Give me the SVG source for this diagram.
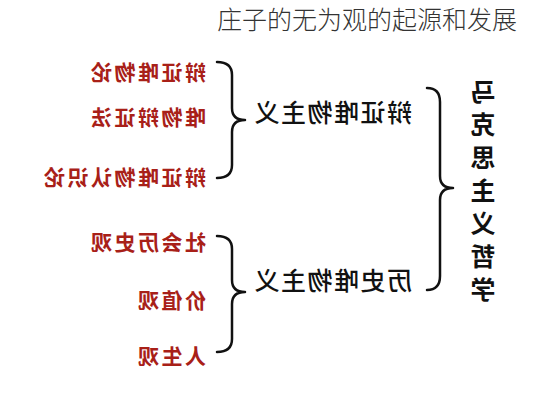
<svg xmlns="http://www.w3.org/2000/svg" width="533" height="400" viewBox="0 0 533 400">
<style>
.title{font-family:"Noto Sans CJK SC","Noto Sans",sans-serif;font-size:25px;font-weight:300;fill:#333}
.red{font-family:"Noto Sans CJK SC","Noto Sans",sans-serif;font-size:21px;font-weight:bold;fill:#a82018;letter-spacing:2.5px}
.mid{font-family:"Noto Sans CJK SC","Noto Sans",sans-serif;font-size:25px;font-weight:500;fill:#111;letter-spacing:1.5px}
.vert{font-family:"Noto Sans CJK SC","Noto Sans",sans-serif;font-size:25px;font-weight:bold;fill:#111;text-anchor:middle}
.brace{fill:none;stroke:#111;stroke-width:2.5;stroke-linecap:round;stroke-linejoin:round}
</style>
<rect width="533" height="400" fill="#fff"/>
<text class="title" x="217" y="29">庄子的无为观的起源和发展</text>
<g id="connectors">
<path class="brace" d="M217,62 Q232,62 232,75 L232,108 Q232,120 245,120 Q232,120 232,132 L232,165 Q232,178 217,178"/>
<path class="brace" d="M217,236 Q232,236 232,249 L232,280 Q232,292 245,292 Q232,292 232,304 L232,339 Q232,352 217,352"/>
<path class="brace" d="M427,88 Q440,88 440,102 L440,176 Q440,188 453,188 Q440,188 440,200 L440,276 Q440,290 427,290"/>
</g>
<g id="n1" transform="translate(206,80) scale(-1,1)"><text class="red" x="0" y="0">辩证唯物论</text></g>
<g id="n2" transform="translate(206,125) scale(-1,1)"><text class="red" x="0" y="0">唯物辩证法</text></g>
<g id="n3" transform="translate(206,185) scale(-1,1)"><text class="red" x="0" y="0">辩证唯物认识论</text></g>
<g id="n4" transform="translate(206,250) scale(-1,1)"><text class="red" x="0" y="0">社会历史观</text></g>
<g id="n5" transform="translate(206,308) scale(-1,1)"><text class="red" x="0" y="0">价值观</text></g>
<g id="n6" transform="translate(206,364) scale(-1,1)"><text class="red" x="0" y="0">人生观</text></g>
<g id="m1" transform="translate(412,122) scale(-1,1)"><text class="mid" x="0" y="0">辩证唯物主义</text></g>
<g id="m2" transform="translate(412,290) scale(-1,1)"><text class="mid" x="0" y="0">历史唯物主义</text></g>
<g id="root">
<text class="vert" transform="translate(483,101) scale(-1,1)">马</text>
<text class="vert" transform="translate(483,134) scale(-1,1)">克</text>
<text class="vert" transform="translate(483,167) scale(-1,1)">思</text>
<text class="vert" transform="translate(483,200) scale(-1,1)">主</text>
<text class="vert" transform="translate(483,233) scale(-1,1)">义</text>
<text class="vert" transform="translate(483,266) scale(-1,1)">哲</text>
<text class="vert" transform="translate(483,299) scale(-1,1)">学</text>
</g>
</svg>
